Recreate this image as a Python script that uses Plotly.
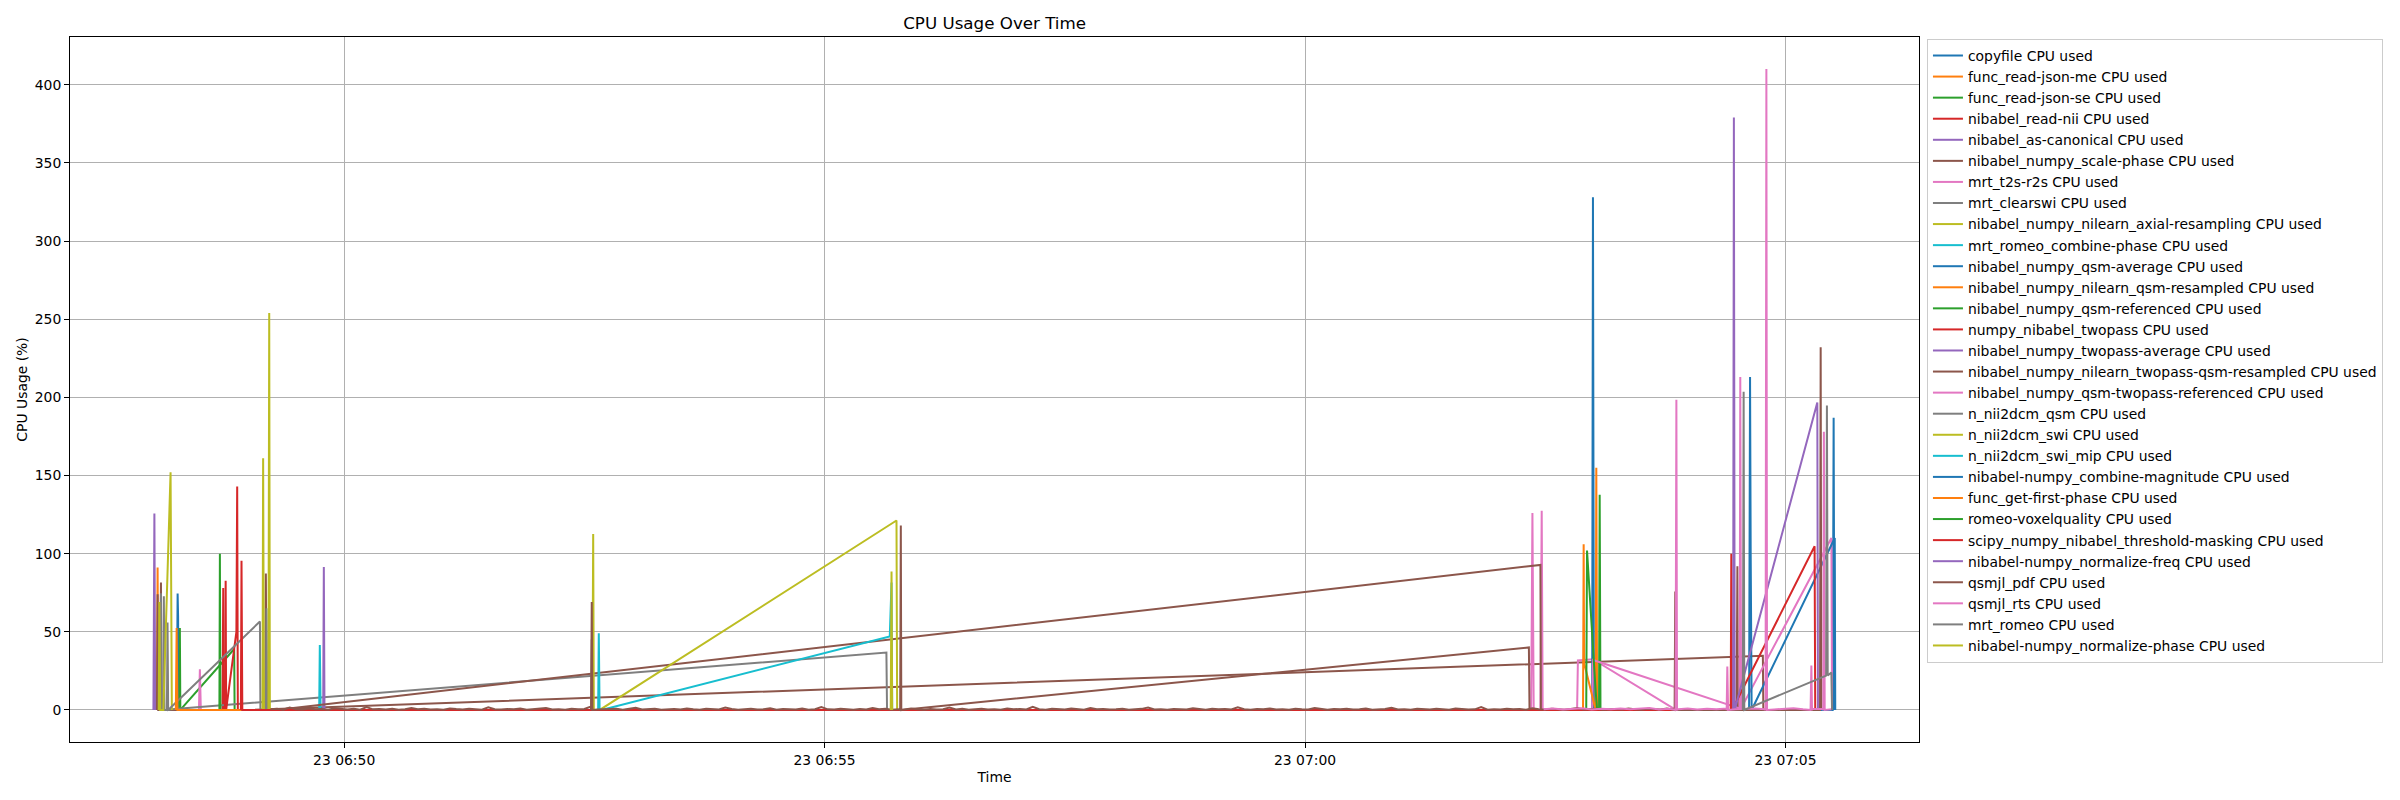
import pandas as pd
import plotly.graph_objects as go

DAY = "2024-05-23 "

series_names = [
    "copyfile", "func_read-json-me", "func_read-json-se", "nibabel_read-nii",
    "nibabel_as-canonical", "nibabel_numpy_scale-phase", "mrt_t2s-r2s", "mrt_clearswi",
    "nibabel_numpy_nilearn_axial-resampling", "mrt_romeo_combine-phase",
    "nibabel_numpy_qsm-average", "nibabel_numpy_nilearn_qsm-resampled",
    "nibabel_numpy_qsm-referenced", "numpy_nibabel_twopass", "nibabel_numpy_twopass-average",
    "nibabel_numpy_nilearn_twopass-qsm-resampled", "nibabel_numpy_qsm-twopass-referenced",
    "n_nii2dcm_qsm", "n_nii2dcm_swi", "n_nii2dcm_swi_mip", "nibabel-numpy_combine-magnitude",
    "func_get-first-phase", "romeo-voxelquality", "scipy_numpy_nibabel_threshold-masking",
    "nibabel-numpy_normalize-freq", "qsmjl_pdf", "qsmjl_rts", "mrt_romeo",
    "nibabel-numpy_normalize-phase",
]

# (times, CPU %) per process
copyfile_t = ["06:48:15.5", "06:48:16.0", "06:48:16.3", "06:48:16.6"]
copyfile_v = [0, 74.5, 60, 0]
json_me_t = ["06:48:03.1", "06:48:03.5", "06:48:03.9"]
json_me_v = [0, 91.2, 0]
json_se_t = ["06:48:17.1", "06:48:17.4", "06:48:17.7", "06:48:51.3", "06:48:51.6"]
json_se_v = [0, 52.5, 0, 39, 0]
read_nii_t = ["06:48:44.0", "06:48:44.5", "06:48:44.9"]
read_nii_v = [0, 78, 0]
canonical_t = ["06:48:00.9", "06:48:01.5", "06:48:02.0"]
canonical_v = [0, 125.7, 0]
scale_phase_t = ["06:48:03.1", "06:48:03.5", "06:48:03.9", "06:48:05.1", "06:48:05.6",
                 "06:48:05.9", "06:49:01.1", "07:04:45.9", "07:04:46.2"]
scale_phase_v = [0, 74, 0, 0, 81.5, 0, 0, 34.6, 0]
t2s_t = ["06:48:29.3", "06:48:29.9", "06:48:30.5", "07:02:21.2", "07:02:22.0", "07:02:22.8",
         "07:02:27.0", "07:02:27.8", "07:02:28.4", "07:02:49.9", "07:02:50.4", "07:02:59.8",
         "07:03:50.8"]
t2s_v = [0, 26, 0, 0, 126, 0, 0, 127.4, 0, 0, 31.7, 32.5, 0.5]
clearswi_t = ["06:48:05.1", "06:48:05.6", "06:48:05.9", "06:48:07.1", "06:48:07.4", "06:48:07.8",
              "06:48:09.3", "06:48:09.7", "06:48:10.1", "06:48:12.4", "06:55:38.6", "06:55:39.0"]
clearswi_v = [0, 74.6, 0, 0, 72.7, 0, 0, 56, 0, 0.5, 36.7, 0]
axial_t = ["06:48:04.2", "06:48:04.6", "06:48:05.1", "06:48:07.1", "06:48:11.6", "06:48:11.9",
           "06:48:12.4"]
axial_v = [0, 69, 0, 0, 152, 48, 0]
combine_phase_t = ["06:49:44.4", "06:49:44.8", "06:49:45.3"]
combine_phase_v = [0, 41.6, 0]
qsm_avg_t = ["07:02:59.3", "07:02:59.8", "07:03:00.4", "07:05:29.5", "07:05:30.1", "07:05:30.6"]
qsm_avg_v = [0, 328, 0, 0, 187, 0]
qsm_res_t = ["07:03:01.5", "07:03:01.9", "07:03:02.4"]
qsm_res_v = [0, 155, 0]
qsm_ref_t = ["06:48:42.1", "06:48:42.4", "06:48:42.7", "07:03:03.6", "07:03:04.0", "07:03:04.5"]
qsm_ref_v = [0, 100, 0, 0, 137.6, 0]
twopass_t = ["06:48:45.5", "06:48:46.0", "06:48:46.3", "06:48:52.7", "06:48:53.2", "06:48:53.6"]
twopass_v = [0, 82.6, 0, 50, 143, 0]
twopass_avg_t = ["06:49:46.9", "06:49:47.3", "06:49:47.7"]
twopass_avg_v = [0, 91.5, 0]
twopass_res_t = ["06:49:10.7", "06:49:11.1", "06:49:11.5", "06:49:17.4", "07:02:27.0", "07:02:27.3",
                 "06:55:47.9", "07:02:19.8", "07:02:20.2", "07:04:29.5", "07:04:30.0", "07:04:30.3"]
twopass_res_v = [0, 87.3, 0, 0, 92.8, 0, 0, 40, 0, 0, 92, 0]
twopass_ref_t = ["07:02:59.3", "07:02:59.8", "07:04:31.4", "07:04:31.8", "07:04:32.3",
                 "07:05:28.7", "07:05:29.1"]
twopass_ref_v = [0, 32, 1, 213, 1, 110, 0]
dcm_qsm_t = ["06:48:10.1", "06:49:07.4", "06:49:07.7", "06:49:11.1", "06:49:11.5", "06:49:11.9",
             "06:52:34.2", "06:52:34.6", "06:52:35.0"]
dcm_qsm_v = [0, 56.6, 0, 0, 65, 0, 0, 45, 0]
dcm_swi_t = ["06:49:09.0", "06:49:09.4", "06:49:09.9", "06:49:12.7", "06:49:13.2", "06:49:13.6",
             "06:52:35.0", "06:52:35.5", "06:52:35.9", "06:52:39.6", "06:55:44.9", "06:55:45.3"]
dcm_swi_v = [0, 161, 0, 0, 254, 0, 0, 112.5, 0, 0, 121.2, 0]
dcm_mip_t = ["06:52:38.6", "06:52:39.0", "06:52:39.5", "06:52:40.7", "06:55:40.7", "06:55:41.8",
             "06:55:42.2"]
dcm_mip_v = [0, 49, 0, 0, 47, 81.5, 0]
comb_mag_t = ["07:04:37.3", "07:04:37.9", "07:04:38.3", "07:04:38.9", "07:05:30.8", "07:05:31.1"]
comb_mag_v = [0, 213, 100, 0, 110, 0]
first_phase_t = ["06:48:14.9", "06:48:15.4", "06:48:15.9", "07:02:53.6", "07:02:54.0",
                 "07:02:54.3", "07:03:01.5"]
first_phase_v = [0, 52.5, 0, 0, 106, 30, 0]
voxelq_t = ["07:02:55.6", "07:02:56.1", "07:03:01.5", "07:03:02.4"]
voxelq_v = [0, 102, 12, 0]
mask_t = ["06:48:55.5", "06:48:55.9", "06:48:56.4", "07:04:25.8", "07:04:26.2", "07:04:26.7",
          "07:05:18.2", "07:05:18.6"]
mask_v = [0, 95.4, 0, 0, 100, 0, 104.7, 0]
norm_freq_t = ["07:04:27.3", "07:04:27.8", "07:04:28.3", "07:05:19.9", "07:05:20.3"]
norm_freq_v = [0, 379, 0, 196.7, 0]
pdf_spike_t = ["06:52:34.2", "06:52:34.6", "06:52:35.0", "06:55:47.2", "06:55:47.6", "06:55:47.9",
               "07:03:50.8", "07:03:51.2", "07:03:51.4", "07:05:21.6", "07:05:22.0", "07:05:22.4"]
pdf_spike_v = [0, 69, 0, 0, 118, 0, 0, 75.7, 0, 0, 232, 0]
pdf_sample_start = "06:49:14"
pdf_sample_step_s = 4
pdf_samples = [
    0.4, 0.8, 0.2, 1.6, 0.5, 0.3, 0.9, 0.4, 0.6, 0.2,
    1.1, 0.5, 0.3, 0.7, 0.2, 1.9, 0.4, 0.6, 0.3, 0.8,
    0.2, 0.5, 1.3, 0.4, 0.7, 0.3, 0.5, 0.2, 1.0, 0.6,
    0.3, 0.8, 0.4, 0.2, 1.7, 0.5, 0.3, 0.6, 0.4, 0.9,
    0.2, 0.4, 0.7, 1.2, 0.3, 0.5, 0.2, 0.8, 0.4, 0.6,
    2.1, 0.3, 0.5, 0.4, 0.7, 0.2, 0.6, 1.4, 0.3, 0.5,
    0.8, 0.2, 0.4, 0.6, 0.3, 1.0, 0.5, 0.2, 0.7, 0.4,
    0.3, 1.5, 0.6, 0.2, 0.5, 0.8, 0.3, 0.4, 1.1, 0.2,
    0.6, 0.4, 0.3, 0.9, 0.2, 0.5, 1.8, 0.4, 0.3, 0.7,
    0.5, 0.2, 0.6, 0.3, 1.2, 0.4, 0.8, 0.2, 0.5, 0.3,
    0.9, 0.4, 0.2, 0.6, 0.3, 0.5, 1.6, 0.3, 0.7, 0.2,
    0.4, 0.8, 0.3, 0.5, 0.2, 1.0, 0.4, 0.6, 0.3, 2.0,
    0.5, 0.2, 0.7, 0.4, 0.3, 0.9, 0.5, 0.2, 1.3, 0.4,
    0.6, 0.3, 0.5, 0.8, 0.2, 0.4, 0.7, 1.5, 0.3, 0.5,
    0.2, 0.6, 0.4, 0.3, 1.1, 0.5, 0.2, 0.8, 0.4, 0.6,
    0.3, 1.7, 0.5, 0.2, 0.6, 0.4, 0.9, 0.3, 0.5, 0.2,
    0.8, 0.4, 0.3, 1.2, 0.5, 0.2, 0.6, 0.4, 0.7, 0.3,
    0.5, 0.9, 0.2, 0.4, 0.6, 1.4, 0.3, 0.5, 0.2, 0.8,
    0.4, 0.3, 0.7, 0.5, 0.2, 1.0, 0.6, 0.3, 0.4, 1.9,
    0.2, 0.5, 0.3, 0.8, 0.4, 0.6, 0.2, 1.1, 0.5, 0.3,
    0.7, 0.4, 0.2, 0.6, 1.3, 0.3, 0.5, 0.8, 0.2, 0.4,
    0.6, 0.3, 1.0, 0.5, 0.2, 0.7, 0.4, 0.3, 0.9, 0.5,
]
rts_spike_t = ["07:03:51.4", "07:03:51.9", "07:03:52.3", "07:04:23.3", "07:04:23.7", "07:04:24.2",
               "07:04:47.6", "07:04:48.1", "07:04:48.5", "07:05:15.7", "07:05:16.2", "07:05:16.6",
               "07:05:23.6", "07:05:24.0", "07:05:24.5"]
rts_spike_v = [0, 198.5, 0, 0, 27.8, 0, 0, 410, 0, 0, 28.5, 0, 0, 178, 0]
rts_sample_start = "07:02:29"
rts_sample_step_s = 6
rts_samples = [0.4, 0.9, 0.3, 0.6, 1.1, 0.3, 0.8, 0.5, 0.9, 0.4, 0.6, 1.2, 0.3, 0.7, 0.5, 1.0,
               0.3, 0.8, 0.4, 0.9, 0.4, 0.6, 1.0, 0.5, 0.3, 0.7, 1.1, 0.4, 0.6, 0.8, 0.4]
romeo_t = ["07:04:33.4", "07:04:33.9", "07:04:34.3", "07:05:25.4", "07:05:25.9", "07:05:26.4",
           "07:05:28.7", "07:05:29.1"]
romeo_v = [0, 203.6, 0, 22, 194.7, 22, 24, 0]
norm_phase_t = ["06:55:41.3", "06:55:41.8", "06:55:42.2"]
norm_phase_v = [0, 88.5, 0]

tick_times = ["06:50", "06:55", "07:00", "07:05"]
tick_labels = ["23 06:50", "23 06:55", "23 07:00", "23 07:05"]
y_ticks = [0, 50, 100, 150, 200, 250, 300, 350, 400]

colors = ["#1f77b4", "#ff7f0e", "#2ca02c", "#d62728", "#9467bd",
          "#8c564b", "#e377c2", "#7f7f7f", "#bcbd22", "#17becf"]


def ts(lst):
    return [pd.Timestamp(DAY + s) for s in lst]


def sampled(spike_t, spike_v, start, step, samples):
    t0 = pd.Timestamp(DAY + start)
    pts = [(t0 + pd.Timedelta(seconds=step * i), v) for i, v in enumerate(samples)]
    pts += list(zip(ts(spike_t), spike_v))
    pts.sort(key=lambda p: p[0])
    return [p[0] for p in pts], [p[1] for p in pts]


pdf_t, pdf_v = sampled(pdf_spike_t, pdf_spike_v, pdf_sample_start, pdf_sample_step_s, pdf_samples)
rts_t, rts_v = sampled(rts_spike_t, rts_spike_v, rts_sample_start, rts_sample_step_s, rts_samples)

data = [
    (ts(copyfile_t), copyfile_v), (ts(json_me_t), json_me_v), (ts(json_se_t), json_se_v),
    (ts(read_nii_t), read_nii_v), (ts(canonical_t), canonical_v),
    (ts(scale_phase_t), scale_phase_v), (ts(t2s_t), t2s_v), (ts(clearswi_t), clearswi_v),
    (ts(axial_t), axial_v), (ts(combine_phase_t), combine_phase_v),
    (ts(qsm_avg_t), qsm_avg_v), (ts(qsm_res_t), qsm_res_v), (ts(qsm_ref_t), qsm_ref_v),
    (ts(twopass_t), twopass_v), (ts(twopass_avg_t), twopass_avg_v),
    (ts(twopass_res_t), twopass_res_v), (ts(twopass_ref_t), twopass_ref_v),
    (ts(dcm_qsm_t), dcm_qsm_v), (ts(dcm_swi_t), dcm_swi_v), (ts(dcm_mip_t), dcm_mip_v),
    (ts(comb_mag_t), comb_mag_v), (ts(first_phase_t), first_phase_v), (ts(voxelq_t), voxelq_v),
    (ts(mask_t), mask_v), (ts(norm_freq_t), norm_freq_v), (pdf_t, pdf_v), (rts_t, rts_v),
    (ts(romeo_t), romeo_v), (ts(norm_phase_t), norm_phase_v),
]

fig = go.Figure()
for i, (name, (t, v)) in enumerate(zip(series_names, data)):
    fig.add_trace(go.Scatter(
        x=t, y=v, mode="lines", name=f"{name} CPU used",
        line=dict(color=colors[i % 10], width=2),
    ))

FONT = "DejaVu Sans"
grid = "#b0b0b0"
# the page body adds an 8px offset, so the figure is laid out 8px up/left
fig.update_layout(
    width=2400, height=800,
    margin=dict(l=62, r=489, t=29, b=66, autoexpand=False),
    paper_bgcolor="white", plot_bgcolor="white",
    font=dict(family=FONT, size=13.9, color="black"),
    title=dict(text="CPU Usage Over Time", x=0.4111, xanchor="center", y=0.981,
               yanchor="middle", font=dict(family=FONT, size=16.7, color="black")),
    legend=dict(x=1.0043, y=0.9972, xanchor="left", yanchor="top",
                bordercolor="#cccccc", borderwidth=1, bgcolor="rgba(255,255,255,0.8)",
                font=dict(family=FONT, size=13.9, color="black"),
                itemwidth=30, tracegroupgap=0),
    showlegend=True,
)
fig.update_xaxes(
    type="date",
    range=[DAY + "06:47:08.8", DAY + "07:06:23.4"],
    tickvals=[DAY + s for s in tick_times], ticktext=tick_labels,
    showgrid=True, gridcolor=grid, gridwidth=0.8, zeroline=False,
    showline=True, mirror=True, linecolor="black", linewidth=1,
    ticks="outside", ticklen=5, tickcolor="black",
    title=dict(text="Time", font=dict(family=FONT, size=13.9), standoff=5),
)
fig.update_yaxes(
    range=[-20.5, 430.5], tickvals=y_ticks,
    showgrid=True, gridcolor=grid, gridwidth=0.8, zeroline=False,
    showline=True, mirror=True, linecolor="black", linewidth=1,
    ticks="outside", ticklen=5, tickcolor="black",
    title=dict(text="CPU Usage (%)", font=dict(family=FONT, size=13.9), standoff=3),
)

fig.write_html("out.html")
